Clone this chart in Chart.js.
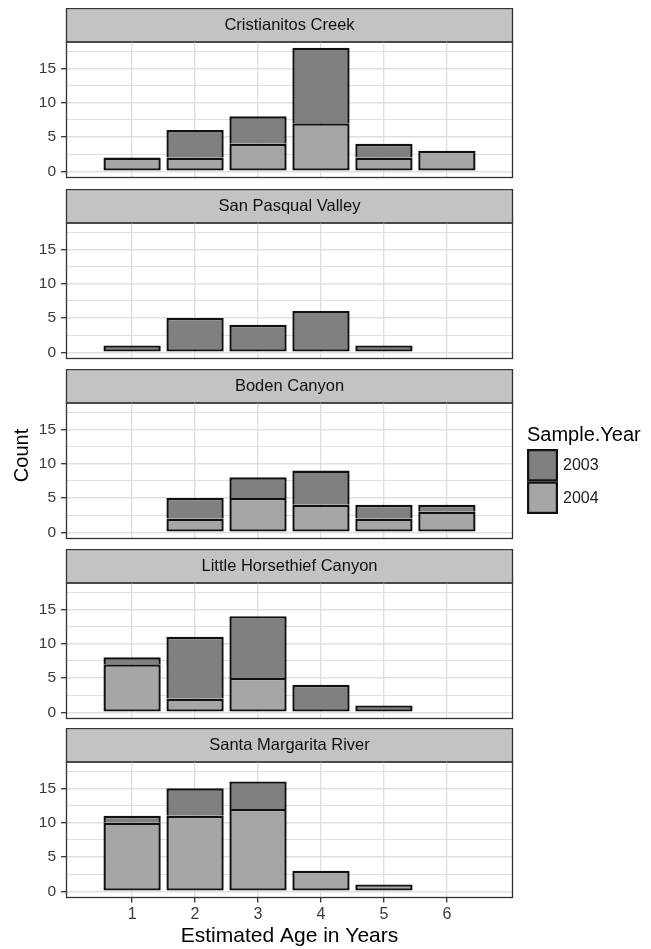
<!DOCTYPE html>
<html>
<head>
<meta charset="utf-8">
<script src="https://cdn.jsdelivr.net/npm/chart.js@4/dist/chart.umd.min.js"></script>
<style>
html,body{margin:0;padding:0;background:#fff;}
#wrap{position:relative;width:651px;height:949px;overflow:hidden;background:#fff;}
canvas{position:absolute;left:0;}
</style>
</head>
<body>
<div id="wrap"></div>
<script>
// ---- data ----
const ages = [1, 2, 3, 4, 5, 6];
const sites = ['Cristianitos Creek', 'San Pasqual Valley', 'Boden Canyon', 'Little Horsethief Canyon', 'Santa Margarita River'];
const years = ['2003', '2004'];

const cristianitos2003     = [0, 4, 4, 11, 2, 0];
const cristianitos2004     = [2, 2, 4, 7, 2, 3];
const sanPasqual2003       = [1, 5, 4, 6, 1, 0];
const sanPasqual2004       = [0, 0, 0, 0, 0, 0];
const boden2003            = [0, 3, 3, 5, 2, 1];
const boden2004            = [0, 2, 5, 4, 2, 3];
const littleHorsethief2003 = [1, 9, 9, 4, 1, 0];
const littleHorsethief2004 = [7, 2, 5, 0, 0, 0];
const santaMargarita2003   = [1, 4, 4, 0, 0, 0];
const santaMargarita2004   = [10, 11, 12, 3, 1, 0];

const yMajorTicks = [0, 5, 10, 15];
const yMinorTicks = [2.5, 7.5, 12.5, 17.5];
const xTicks = ages;

const series2003 = [cristianitos2003, sanPasqual2003, boden2003, littleHorsethief2003, santaMargarita2003];
const series2004 = [cristianitos2004, sanPasqual2004, boden2004, littleHorsethief2004, santaMargarita2004];

// ---- styling / layout ----
const FONT = "'Liberation Sans', Arial, Helvetica, sans-serif";
const COL2003 = '#808080';
const COL2004 = '#a6a6a6';
const STRIP_FILL = '#c3c3c3';
const FRAME = '#333333';
const GRID = '#e0e0e0';
const panelTops = [8, 188.5, 368.5, 548.5, 728];
const STRIP = 33.5, PLOT_H = 136, LEFT = 66, RIGHT = 513;
const BAR_EDGE = 2.4;

Chart.defaults.font.family = FONT;

const stripPlugin = {
  id: 'strip',
  beforeDraw(chart, args, opts) {
    const a = chart.chartArea, ctx = chart.ctx;
    ctx.save();
    ctx.fillStyle = STRIP_FILL;
    ctx.fillRect(a.left, a.top - STRIP, a.right - a.left, STRIP);
    ctx.strokeStyle = FRAME;
    ctx.lineWidth = 1.3;
    ctx.strokeRect(a.left + 0.5, a.top - STRIP + 0.5, a.right - a.left - 1, STRIP);
    ctx.fillStyle = '#111';
    ctx.font = '16.5px ' + FONT;
    ctx.textAlign = 'center';
    ctx.textBaseline = 'middle';
    ctx.fillText(opts.text, (a.left + a.right) / 2, a.top - STRIP / 2 + 0.5);
    ctx.restore();
  },
  afterDatasetsDraw(chart) {
    const a = chart.chartArea, ctx = chart.ctx;
    ctx.save();
    ctx.strokeStyle = FRAME;
    ctx.lineWidth = 1.3;
    ctx.strokeRect(a.left + 0.5, a.top + 0.5, a.right - a.left - 1, a.bottom - a.top - 0.5);
    ctx.restore();
  }
};

const legendPlugin = {
  id: 'sampleLegend',
  afterDraw(chart, args, opts) {
    if (!opts.show) return;
    const ctx = chart.ctx;
    const x0 = 527, titleBase = 71.5, keyTop = 80, keyW = 31, keyH = 32.5;
    ctx.save();
    // shared y-axis title, centred on the full facet column
    ctx.save();
    ctx.translate(22, 86.5);
    ctx.rotate(-Math.PI / 2);
    ctx.fillStyle = '#000';
    ctx.font = '20px ' + FONT;
    ctx.textAlign = 'center';
    ctx.textBaseline = 'middle';
    ctx.fillText('Count', 0, 0);
    ctx.restore();

    ctx.fillStyle = '#000';
    ctx.font = '20px ' + FONT;
    ctx.textAlign = 'left';
    ctx.textBaseline = 'alphabetic';
    ctx.fillText('Sample.Year', x0, titleBase);
    // legend order: 2003 then 2004 (dataset order is reversed for stacking)
    const ds = chart.data.datasets.slice().reverse();
    ds.forEach((d, k) => {
      const y = keyTop + k * keyH;
      ctx.fillStyle = d.backgroundColor;
      ctx.fillRect(x0, y, keyW, keyH);
      ctx.strokeStyle = '#111';
      ctx.lineWidth = 2.2;
      ctx.strokeRect(x0 + 1.1, y + 1.1, keyW - 2.2, keyH - 2.2);
      ctx.fillStyle = '#1a1a1a';
      ctx.font = '16px ' + FONT;
      ctx.textBaseline = 'middle';
      ctx.fillText(d.label, x0 + keyW + 5, y + keyH / 2 + 0.5);
    });
    ctx.restore();
  }
};

Chart.register(stripPlugin, legendPlugin);

const wrap = document.getElementById('wrap');
const yGridValues = yMajorTicks.concat(yMinorTicks).sort((p, q) => p - q);
const isMajor = v => yMajorTicks.indexOf(v) >= 0;

function toBars(arr) { return arr.map(v => (v > 0 ? v : null)); }

sites.forEach((site, i) => {
  const isLast = i === sites.length - 1;
  const isLegend = i === 2;
  const w = isLegend ? 651 : 520;
  const h = isLast ? Math.round(949 - panelTops[i]) : 173;
  const canvas = document.createElement('canvas');
  canvas.width = w; canvas.height = h;
  canvas.style.width = w + 'px'; canvas.style.height = h + 'px';
  canvas.style.top = panelTops[i] + 'px';
  wrap.appendChild(canvas);

  const lower = series2004[i];
  new Chart(canvas, {
    type: 'bar',
    data: {
      labels: ages,
      datasets: [
        {
          label: years[1],
          data: toBars(series2004[i]),
          backgroundColor: COL2004,
          borderColor: '#111',
          borderWidth: BAR_EDGE,
          borderSkipped: false
        },
        {
          label: years[0],
          data: toBars(series2003[i]),
          backgroundColor: COL2003,
          borderColor: '#111',
          borderWidth: BAR_EDGE,
          borderSkipped: c => (lower[c.dataIndex] > 0 ? 'bottom' : false)
        }
      ]
    },
    options: {
      responsive: false,
      animation: false,
      devicePixelRatio: 1,
      events: [],
      layout: { padding: { top: STRIP, left: 0, right: w - RIGHT, bottom: isLast ? 0 : h - STRIP - PLOT_H } },
      datasets: { bar: { categoryPercentage: 1, barPercentage: 0.91 } },
      plugins: {
        legend: { display: false },
        tooltip: { enabled: false },
        strip: { text: site },
        sampleLegend: { show: isLegend }
      },
      scales: {
        x: {
          type: 'linear',
          min: -0.05,
          max: 7.05,
          offset: false,
          stacked: true,
          afterBuildTicks: s => { s.ticks = xTicks.map(v => ({ value: v })); },
          afterFit: s => {
            s.height = isLast ? (h - STRIP - PLOT_H) : 0;
            s.paddingLeft = 0; s.paddingRight = 0;
          },
          grid: {
            offset: false,
            color: GRID,
            lineWidth: 1.4,
            drawTicks: isLast,
            tickLength: 5,
            tickColor: FRAME,
            tickWidth: 1.3
          },
          border: { display: false },
          ticks: {
            display: isLast,
            autoSkip: false,
            maxRotation: 0,
            padding: 2,
            color: '#3a3a3a',
            font: { size: 16 },
            callback: v => String(v)
          },
          title: {
            display: isLast,
            text: 'Estimated Age in Years',
            color: '#000',
            font: { size: 21 },
            padding: { top: 0, bottom: 0 }
          }
        },
        y: {
          min: -0.9,
          max: 18.9,
          stacked: true,
          afterBuildTicks: s => { s.ticks = yGridValues.map(v => ({ value: v })); },
          afterFit: s => { s.width = LEFT; s.paddingTop = 0; s.paddingBottom = 0; },
          grid: {
            color: GRID,
            lineWidth: c => (c.tick && isMajor(c.tick.value) ? 1.4 : 1),
            drawTicks: true,
            tickLength: 5,
            tickColor: c => (c.tick && isMajor(c.tick.value) ? FRAME : 'rgba(0,0,0,0)'),
            tickWidth: 1.3
          },
          border: { display: false },
          ticks: {
            autoSkip: false,
            padding: 5,
            color: '#3a3a3a',
            font: { size: 15.5 },
            callback: v => (isMajor(v) ? String(v) : '')
          },
          title: { display: false }
        }
      }
    }
  });
});
</script>
</body>
</html>
